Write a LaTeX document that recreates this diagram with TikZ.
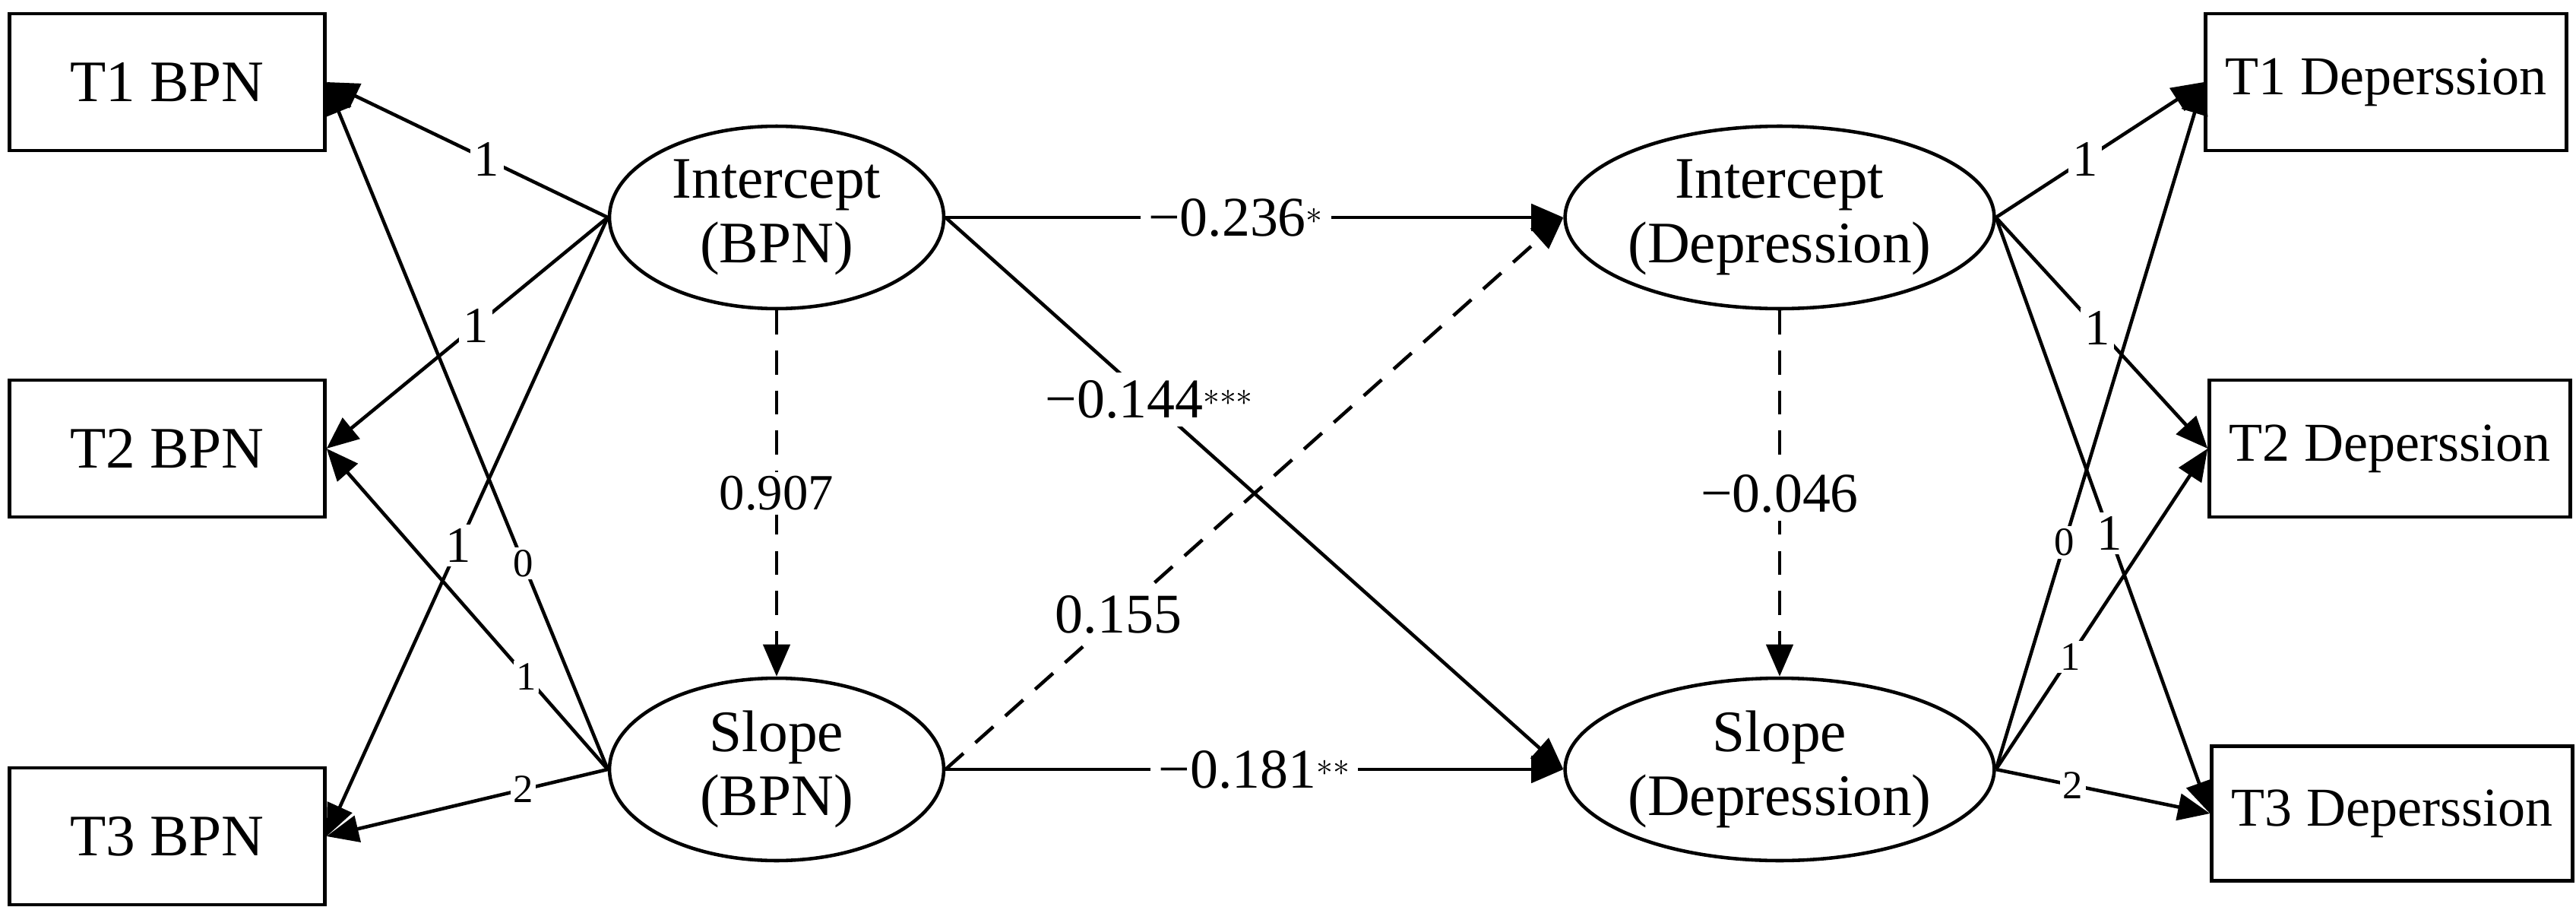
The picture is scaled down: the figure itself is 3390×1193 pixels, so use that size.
\documentclass[tikz,border=0pt]{standalone}
\usepackage{fontspec}
\setmainfont{Liberation Serif}
\usetikzlibrary{arrows.meta,shapes.geometric}
\begin{document}
\begin{tikzpicture}[x=0.02cm,y=-0.02cm,
  box/.style={draw,line width=2.6pt,minimum width=8.3cm,minimum height=3.6cm,font=\fontsize{44}{50}\selectfont,inner sep=0pt},
  dbox/.style={box,minimum width=9.5cm,font=\fontsize{41}{46}\selectfont},
  lat/.style={draw,ellipse,line width=2.6pt,minimum width=8.8cm,minimum height=4.8cm,align=center,font=\fontsize{44}{48}\selectfont,inner sep=0pt},
  arr/.style={line width=2.6pt,-{Triangle[length=24pt,width=20pt]}},
  dsh/.style={arr,dash pattern=on 18pt off 12pt},
  lab/.style={fill=white,inner sep=3pt,font=\fontsize{38}{42}\selectfont},
  slab/.style={fill=white,inner sep=2pt,font=\fontsize{30}{34}\selectfont},
  mlab/.style={fill=white,inner sep=6pt,font=\fontsize{42}{46}\selectfont}]
\useasboundingbox (0,0) rectangle (3390,1193);
\node[box] (b1) at (220,108) {T1 BPN};
\node[box] (b2) at (220,590) {T2 BPN};
\node[box] (b3) at (220,1100) {T3 BPN};
\node[dbox] (d1) at (3140,108) {T1 Deperssion};
\node[dbox] (d2) at (3145,590) {T2 Deperssion};
\node[dbox,minimum height=3.55cm] (d3) at (3148,1070) {T3 Deperssion};
\node[lat] (ib) at (1022,286) {Intercept\\(BPN)};
\node[lat] (sb) at (1022,1012) {Slope\\(BPN)};
\node[lat] (id) at (2342,286) {Intercept\\(Depression)};
\node[lat] (sd) at (2342,1012) {Slope\\(Depression)};
% left
\draw[arr] (ib.west) -- node[lab,pos=0.43]{1} (b1.east);
\draw[arr] (ib.west) -- node[lab,pos=0.47]{1} (b2.east);
\draw[arr] (ib.west) -- node[lab,pos=0.53]{1} (b3.east);
\draw[arr] (sb.west) -- node[slab,pos=0.30]{0} (b1.east);
\draw[arr] (sb.west) -- node[slab,pos=0.29]{1} (b2.east);
\draw[arr] (sb.west) -- node[slab,pos=0.30]{2} (b3.east);
% right
\draw[arr] (id.east) -- node[lab,pos=0.43]{1} (d1.west);
\draw[arr] (id.east) -- node[lab,pos=0.48]{1} (d2.west);
\draw[arr] (id.east) -- node[lab,pos=0.53]{1} (d3.west);
\draw[arr] (sd.east) -- node[slab,pos=0.33]{0} (d1.west);
\draw[arr] (sd.east) -- node[slab,pos=0.35]{1} (d2.west);
\draw[arr] (sd.east) -- node[slab,pos=0.36]{2} (d3.west);
% middle
\draw[arr] (ib.east) -- node[mlab,pos=0.47]{−0.236$^{*}$} (id.west);
\draw[arr] (sb.east) -- node[mlab,pos=0.5]{−0.181$^{**}$} (sd.west);
\draw[arr] (ib.east) -- node[mlab,pos=0.33]{−0.144$^{***}$} (sd.west);
\draw[dsh] (sb.east) -- node[mlab,pos=0.28]{0.155} (id.west);
\draw[dsh] (ib.south) -- node[lab]{0.907} (sb.north);
\draw[dsh] (id.south) -- node[mlab]{−0.046} (sd.north);
\end{tikzpicture}
\end{document}
